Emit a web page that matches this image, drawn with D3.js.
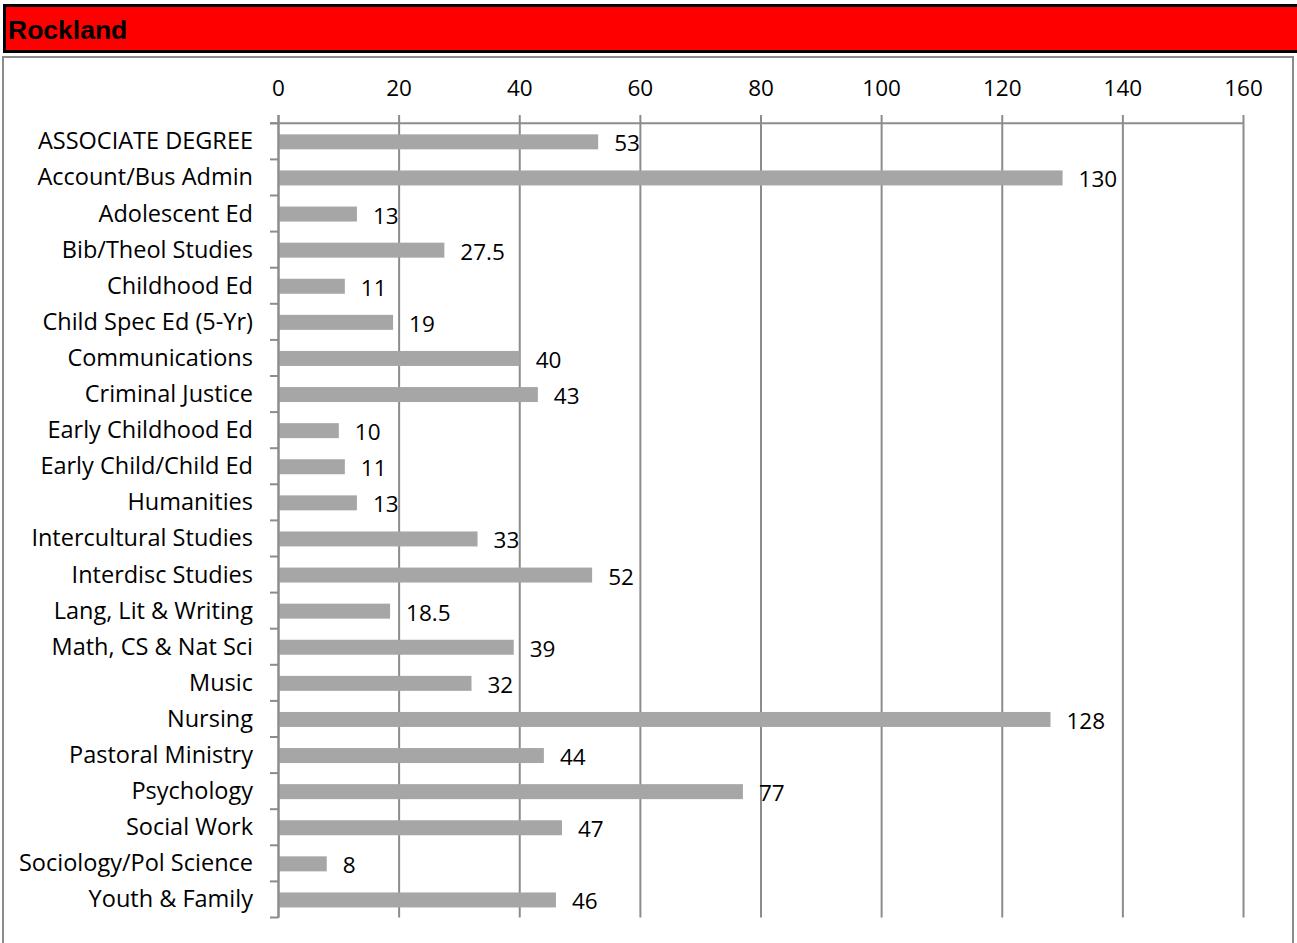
<!DOCTYPE html>
<html><head><meta charset="utf-8">
<script src="https://cdn.jsdelivr.net/npm/d3@7/dist/d3.min.js"></script>
<style>body{margin:0;background:#fff;}svg{display:block;}</style>
</head><body>
<script>
const categories = ["ASSOCIATE DEGREE","Account/Bus Admin","Adolescent Ed","Bib/Theol Studies","Childhood Ed","Child Spec Ed (5-Yr)","Communications","Criminal Justice","Early Childhood Ed","Early Child/Child Ed","Humanities","Intercultural Studies","Interdisc Studies","Lang, Lit & Writing","Math, CS & Nat Sci","Music","Nursing","Pastoral Ministry","Psychology","Social Work","Sociology/Pol Science","Youth & Family"];
const values = [53,130,13,27.5,11,19,40,43,10,11,13,33,52,18.5,39,32,128,44,77,47,8,46];
const ticks = [0,20,40,60,80,100,120,140,160];
const title = "Rockland";

const W = 1297, H = 943;
const svg = d3.select("body").append("svg").attr("width", W).attr("height", H);
const font = "'Open Sans', 'Noto Sans', sans-serif";
const fs = 22.5;

// header
svg.append("rect").attr("x", 4.5).attr("y", 5.5).attr("width", W + 10).attr("height", 46)
  .attr("fill", "#ff0000").attr("stroke", "#000").attr("stroke-width", 3);
svg.append("text").attr("x", 8).attr("y", 38.5).text(title)
  .attr("font-family", "'Liberation Sans', Arial, sans-serif").attr("font-weight", "bold")
  .attr("font-size", 26.5).attr("fill", "#000");

// chart box
svg.append("rect").attr("x", 3).attr("y", 57).attr("width", 1290).attr("height", H)
  .attr("fill", "#fff").attr("stroke", "#8c8c8c").attr("stroke-width", 2);

const x = d3.scaleLinear().domain([0, 160]).range([278.5, 1243.5]);
const yb = d3.scaleBand().domain(categories).range([123.3, 917.5]);

const gridColor = "#8c8c8c";
// vertical gridlines
svg.append("g").selectAll("line").data(ticks).join("line")
  .attr("x1", d => x(d)).attr("x2", d => x(d)).attr("y1", 115).attr("y2", 917.5)
  .attr("stroke", gridColor).attr("stroke-width", 2);
// top axis line
svg.append("line").attr("x1", 270).attr("x2", x(160)).attr("y1", 123.3).attr("y2", 123.3)
  .attr("stroke", gridColor).attr("stroke-width", 2);
// left category ticks
const bounds = categories.map(c => yb(c)).concat([917.5]);
svg.append("g").selectAll("line").data(bounds).join("line")
  .attr("x1", 270).attr("x2", 278.5).attr("y1", d => d).attr("y2", d => d)
  .attr("stroke", gridColor).attr("stroke-width", 2);

// tick labels
svg.append("g").selectAll("text").data(ticks).join("text")
  .attr("x", d => x(d)).attr("y", 96).attr("text-anchor", "middle").text(d => d)
  .attr("font-family", font).attr("font-size", fs).attr("fill", "#000");

// bars
const bh = 15;
svg.append("g").selectAll("rect").data(values).join("rect")
  .attr("x", x(0)).attr("y", (d, i) => yb(categories[i]) + yb.bandwidth() / 2 - bh / 2 + 0.5)
  .attr("width", d => x(d) - x(0)).attr("height", bh).attr("fill", "#a6a6a6");

// value labels
svg.append("g").selectAll("text").data(values).join("text")
  .attr("x", d => x(d) + 16).attr("y", (d, i) => yb(categories[i]) + yb.bandwidth() / 2 + 10)
  .text(d => d).attr("font-family", font).attr("font-size", fs).attr("fill", "#000");

// category labels
svg.append("g").selectAll("text").data(categories).join("text")
  .attr("x", 253).attr("y", c => yb(c) + yb.bandwidth() / 2 + 8)
  .attr("text-anchor", "end").text(c => c)
  .attr("font-family", font).attr("font-size", fs + 1).attr("fill", "#000");
// left axis line
svg.append("line").attr("x1", 278.5).attr("x2", 278.5).attr("y1", 115).attr("y2", 917.5)
  .attr("stroke", gridColor).attr("stroke-width", 2);
</script>
</body></html>
